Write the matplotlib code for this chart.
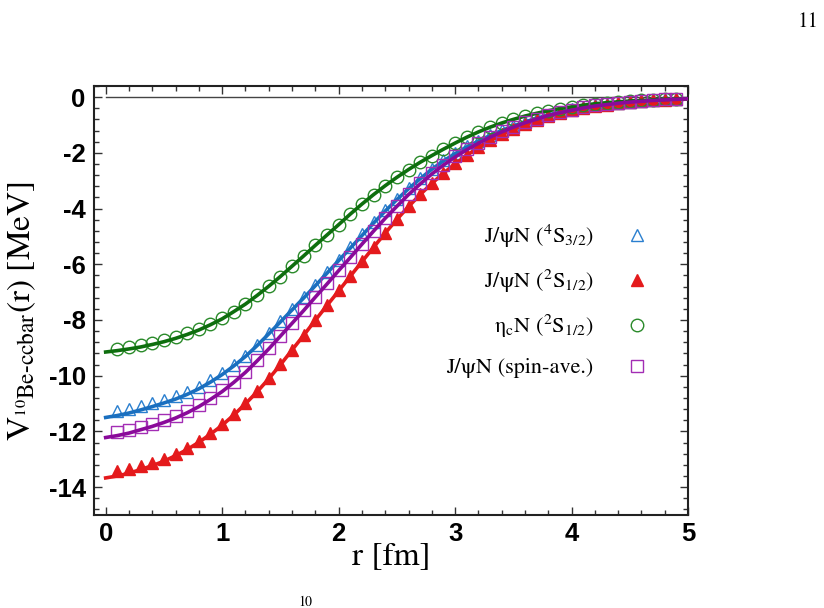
import numpy as np
import matplotlib
matplotlib.use("Agg")
import matplotlib.pyplot as plt
from matplotlib.lines import Line2D

plt.rcParams["mathtext.fontset"] = "stix"
plt.rcParams["axes.unicode_minus"] = False

# r grid for fitted curves (0 .. 5 fm) and lattice points (0.1 .. 4.9 fm)
r_fit = np.round(np.arange(0.0, 5.01, 0.1), 1)
r_pts = np.round(np.arange(0.1, 4.91, 0.1), 1)

# fitted curves
fit_4s32 = [-11.50, -11.43, -11.34, -11.23, -11.11, -10.98, -10.84, -10.67, -10.47, -10.23,
            -9.96, -9.65, -9.31, -8.92, -8.50, -8.07, -7.64, -7.21, -6.77, -6.32,
            -5.87, -5.42, -4.97, -4.52, -4.09, -3.68, -3.29, -2.93, -2.59, -2.29,
            -2.03, -1.79, -1.58, -1.38, -1.20, -1.04, -0.89, -0.76, -0.64, -0.54,
            -0.45, -0.38, -0.31, -0.26, -0.21, -0.17, -0.14, -0.11, -0.09, -0.07, -0.06]
fit_2s12 = [-13.67, -13.60, -13.50, -13.37, -13.23, -13.07, -12.87, -12.65, -12.39, -12.10,
            -11.78, -11.41, -11.01, -10.58, -10.11, -9.61, -9.08, -8.55, -8.01, -7.48,
            -6.96, -6.43, -5.91, -5.39, -4.88, -4.39, -3.93, -3.50, -3.10, -2.73,
            -2.40, -2.09, -1.81, -1.57, -1.35, -1.16, -0.99, -0.84, -0.71, -0.60,
            -0.50, -0.42, -0.35, -0.29, -0.24, -0.20, -0.16, -0.13, -0.11, -0.09, -0.07]
fit_etac = [-9.15, -9.10, -9.04, -8.97, -8.88, -8.78, -8.66, -8.52, -8.36, -8.17,
            -7.96, -7.70, -7.43, -7.12, -6.79, -6.44, -6.07, -5.70, -5.32, -4.95,
            -4.58, -4.20, -3.84, -3.50, -3.18, -2.88, -2.60, -2.34, -2.10, -1.87,
            -1.65, -1.44, -1.25, -1.08, -0.93, -0.80, -0.68, -0.58, -0.49, -0.41,
            -0.35, -0.29, -0.24, -0.20, -0.17, -0.14, -0.12, -0.10, -0.08, -0.07, -0.06]
fit_ave = [-12.22, -12.15, -12.06, -11.94, -11.82, -11.68, -11.52, -11.33, -11.11, -10.85,
           -10.57, -10.24, -9.88, -9.47, -9.04, -8.58, -8.12, -7.66, -7.18, -6.71,
           -6.23, -5.76, -5.28, -4.81, -4.35, -3.92, -3.50, -3.12, -2.76, -2.44,
           -2.15, -1.89, -1.66, -1.44, -1.25, -1.08, -0.92, -0.79, -0.66, -0.56,
           -0.47, -0.39, -0.32, -0.27, -0.22, -0.18, -0.15, -0.12, -0.10, -0.08, -0.06]

# lattice points
pts_4s32 = [-11.28, -11.20, -11.10, -10.99, -10.88, -10.74, -10.58, -10.40, -10.17,
            -9.91, -9.61, -9.28, -8.89, -8.48, -8.05, -7.62, -7.17, -6.73, -6.28,
            -5.83, -5.38, -4.93, -4.48, -4.05, -3.65, -3.26, -2.90, -2.57, -2.27,
            -2.01, -1.77, -1.56, -1.36, -1.18, -1.02, -0.88, -0.75, -0.63, -0.53,
            -0.44, -0.37, -0.30, -0.25, -0.20, -0.16, -0.13, -0.10, -0.08, -0.06]
pts_2s12 = [-13.43, -13.36, -13.25, -13.13, -12.98, -12.80, -12.59, -12.34, -12.06,
            -11.75, -11.39, -10.99, -10.56, -10.09, -9.59, -9.06, -8.53, -7.99, -7.46,
            -6.94, -6.41, -5.89, -5.37, -4.86, -4.37, -3.91, -3.48, -3.08, -2.71,
            -2.38, -2.07, -1.79, -1.55, -1.33, -1.14, -0.97, -0.82, -0.69, -0.58,
            -0.48, -0.40, -0.33, -0.27, -0.22, -0.18, -0.14, -0.11, -0.09, -0.07]
pts_etac = [-9.03, -8.97, -8.90, -8.82, -8.73, -8.62, -8.48, -8.33, -8.15,
            -7.94, -7.70, -7.43, -7.12, -6.79, -6.44, -6.07, -5.70, -5.32, -4.95,
            -4.58, -4.20, -3.84, -3.50, -3.18, -2.88, -2.60, -2.34, -2.10, -1.87,
            -1.65, -1.44, -1.25, -1.08, -0.93, -0.80, -0.68, -0.58, -0.49, -0.41,
            -0.35, -0.29, -0.24, -0.20, -0.17, -0.14, -0.12, -0.10, -0.08, -0.07]
pts_ave = [-12.02, -11.94, -11.83, -11.72, -11.58, -11.43, -11.25, -11.04, -10.80,
           -10.53, -10.21, -9.85, -9.45, -9.02, -8.56, -8.10, -7.64, -7.16, -6.69,
           -6.21, -5.74, -5.26, -4.79, -4.33, -3.90, -3.48, -3.10, -2.74, -2.42,
           -2.13, -1.87, -1.64, -1.42, -1.23, -1.06, -0.90, -0.77, -0.64, -0.54,
           -0.45, -0.37, -0.30, -0.25, -0.20, -0.16, -0.13, -0.10, -0.08, -0.06]

labels = ["J/ψN ($^4$S$_{3/2}$)", "J/ψN ($^2$S$_{1/2}$)",
          "η$_\\mathrm{c}$N ($^2$S$_{1/2}$)", "J/ψN (spin-ave.)"]

fig = plt.figure(figsize=(8.24, 6.08), dpi=100)
ax = fig.add_axes([0.1141, 0.1530, 0.7209, 0.7056])

ax.plot([0, 5], [0, 0], color="#444444", lw=1.0, zorder=1)

# blue 4S3/2
ax.plot(r_pts, pts_4s32, ls="none", marker="^", ms=8.5, mfc="none", mec="#2a7fcf", mew=1.0, zorder=2)
ax.plot(r_fit, fit_4s32, color="#1a6fbf", lw=2.6, zorder=3)
# red 2S1/2
ax.plot(r_pts, pts_2s12, ls="none", marker="^", ms=8.5, mfc="#e41a1c", mec="#e41a1c", mew=1.0, zorder=4)
ax.plot(r_fit, fit_2s12, color="#e41a1c", lw=2.6, zorder=5)
# green eta_c
ax.plot(r_pts, pts_etac, ls="none", marker="o", ms=9, mfc="none", mec="#2a8a2a", mew=1.0, zorder=6)
ax.plot(r_fit, fit_etac, color="#0e6e0e", lw=2.6, zorder=7)
# purple spin-ave
ax.plot(r_pts, pts_ave, ls="none", marker="s", ms=8.5, mfc="none", mec="#a32db4", mew=1.0, zorder=8)
ax.plot(r_fit, fit_ave, color="#8a0a9a", lw=2.6, zorder=9)

ax.set_xlim(-0.1, 5.0)
ax.set_ylim(-15, 0.4)
ax.set_xticks(range(0, 6))
ax.set_yticks(range(-14, 1, 2))
ax.set_xticks(np.arange(0, 5.01, 0.2), minor=True)
ax.set_yticks(np.arange(-15.2, 0.41, 0.4)[1:], minor=True)
ax.tick_params(which="both", direction="in", top=True, right=True, width=1.0, color="#333333")
ax.tick_params(which="major", length=6)
ax.tick_params(which="minor", length=3.5)
for lab in ax.get_xticklabels() + ax.get_yticklabels():
    lab.set_fontfamily("Liberation Sans")
    lab.set_fontweight("bold")
    lab.set_fontsize(18.5)
ax.tick_params(axis="x", pad=5)
ax.tick_params(axis="y", pad=6)
for sp in ax.spines.values():
    sp.set_linewidth(1.5)
    sp.set_color("#222222")

ax.set_xlabel("r [fm]", family="STIXGeneral", fontsize=24, labelpad=-3)
ax.set_ylabel("V$_{{}^{10}\\mathrm{Be\\text{-}ccbar}}$(r) [MeV]", family="STIXGeneral", fontsize=24)
ax.yaxis.set_label_coords(-0.094, 0.476)

handles = [
    Line2D([], [], ls="none", marker="^", ms=8.5, mfc="none", mec="#2a7fcf", mew=1.0),
    Line2D([], [], ls="none", marker="^", ms=8.5, mfc="#e41a1c", mec="#e41a1c", mew=1.0),
    Line2D([], [], ls="none", marker="o", ms=9, mfc="none", mec="#2a8a2a", mew=1.0),
    Line2D([], [], ls="none", marker="s", ms=8.5, mfc="none", mec="#a32db4", mew=1.0),
]
leg = ax.legend(handles, labels, loc="center right", bbox_to_anchor=(0.985, 0.50),
                frameon=False, markerfirst=False, handletextpad=0.95, labelspacing=0.8,
                prop={"family": "STIXGeneral", "size": 16})
for t in leg.get_texts():
    t.set_ha("right")

fig.text(808 / 824, 1 - 22 / 608, "11", family="STIXGeneral", fontsize=15, ha="center", va="center")
fig.text(305 / 824, 1 - 596 / 608, "10", family="STIXGeneral", fontsize=10, ha="center", va="top")

fig.savefig("out.png", dpi=100)
